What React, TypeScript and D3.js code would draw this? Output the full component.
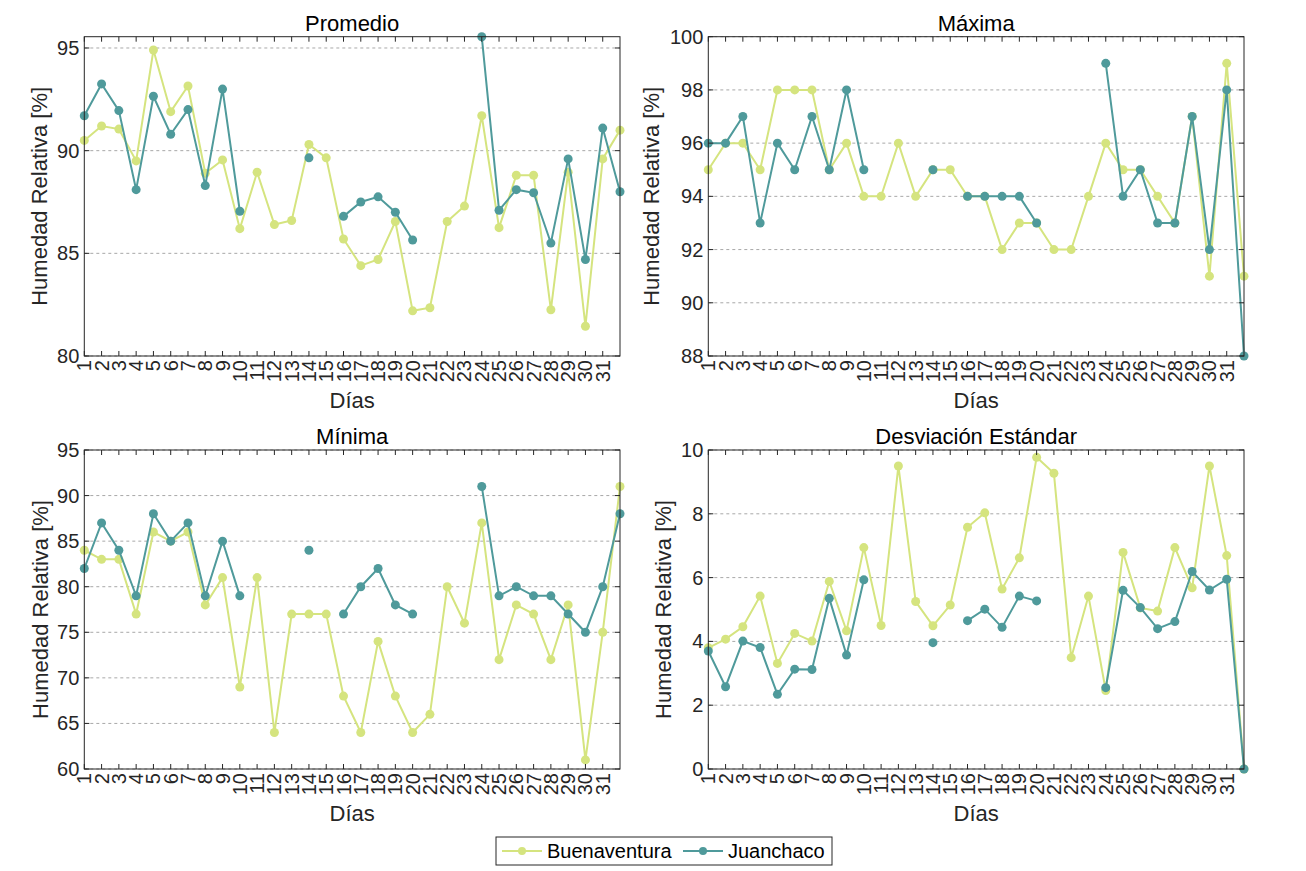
import React from "react";
import * as d3 from "d3";

const WIDTH = 1306;
const HEIGHT = 871;
const FONT = "'Liberation Sans', Arial, Helvetica, sans-serif";
const COLOR_BUENA = "#d5e47f";
const COLOR_JUAN = "#4f9a9b";
const AXIS_COLOR = "#262626";

// dias del mes (el 32 queda sin etiqueta)
const DAYS = d3.range(1, 33);
const DAY_LABELS = [
  "1", "2", "3", "4", "5", "6", "7", "8", "9", "10", "11", "12", "13", "14", "15", "16",
  "17", "18", "19", "20", "21", "22", "23", "24", "25", "26", "27", "28", "29", "30", "31",
];

const SERIES_NAMES = ["Buenaventura", "Juanchaco"];

const PROM_BUENA = [
  90.5, 91.2, 91.05, 89.5, 94.9, 91.9, 93.15, 88.9, 89.55, 86.2, 88.95, 86.4, 86.6, 90.3, 89.65, 85.7,
  84.4, 84.7, 86.55, 82.2, 82.35, 86.55, 87.3, 91.7, 86.25, 88.8, 88.8, 82.25, 88.95, 81.45, 89.6, 91.0,
];
const PROM_JUAN = [
  91.7, 93.25, 91.95, 88.1, 92.65, 90.8, 92.0, 88.3, 93.0, 87.05, null, null, null, 89.65, null, 86.8,
  87.5, 87.75, 87.0, 85.65, null, null, null, 95.55, 87.1, 88.1, 87.95, 85.5, 89.6, 84.7, 91.1, 88.0,
];

const MAX_BUENA = [
  95, 96, 96, 95, 98, 98, 98, 95, 96, 94, 94, 96, 94, 95, 95, 94,
  94, 92, 93, 93, 92, 92, 94, 96, 95, 95, 94, 93, 97, 91, 99, 91,
];
const MAX_JUAN = [
  96, 96, 97, 93, 96, 95, 97, 95, 98, 95, null, null, null, 95, null, 94,
  94, 94, 94, 93, null, null, null, 99, 94, 95, 93, 93, 97, 92, 98, 88,
];

const MIN_BUENA = [
  84, 83, 83, 77, 86, 85, 86, 78, 81, 69, 81, 64, 77, 77, 77, 68,
  64, 74, 68, 64, 66, 80, 76, 87, 72, 78, 77, 72, 78, 61, 75, 91,
];
const MIN_JUAN = [
  82, 87, 84, 79, 88, 85, 87, 79, 85, 79, null, null, null, 84, null, 77,
  80, 82, 78, 77, null, null, null, 91, 79, 80, 79, 79, 77, 75, 80, 88,
];

const STD_BUENA = [
  3.8, 4.07, 4.46, 5.42, 3.31, 4.25, 4.01, 5.88, 4.33, 6.94, 4.5, 9.5, 5.25, 4.49, 5.14, 7.58,
  8.03, 5.64, 6.62, 9.77, 9.27, 3.49, 5.42, 2.46, 6.79, 5.05, 4.95, 6.94, 5.68, 9.5, 6.69, 0,
];
const STD_JUAN = [
  3.7, 2.58, 4.01, 3.81, 2.34, 3.13, 3.12, 5.35, 3.57, 5.93, null, null, null, 3.96, null, 4.65,
  5.01, 4.44, 5.42, 5.27, null, null, null, 2.55, 5.6, 5.06, 4.4, 4.62, 6.19, 5.61, 5.95, 0,
];

const PROM_TICKS = [80, 85, 90, 95];
const MAX_TICKS = [88, 90, 92, 94, 96, 98, 100];
const MIN_TICKS = [60, 65, 70, 75, 80, 85, 90, 95];
const STD_TICKS = [0, 2, 4, 6, 8, 10];

type PanelProps = {
  title: string;
  left: number;
  top: number;
  width: number;
  height: number;
  yDomain: [number, number];
  yTicks: number[];
  buena: (number | null)[];
  juan: (number | null)[];
  yLabelOffset: number;
};

const Panel = ({ title, left, top, width, height, yDomain, yTicks, buena, juan, yLabelOffset }: PanelProps) => {
  const x = d3.scaleLinear().domain([1, 32]).range([0, width]);
  const y = d3.scaleLinear().domain(yDomain).range([height, 0]);

  const line = d3
    .line<number | null>()
    .defined((d) => d !== null)
    .x((_, i) => x(DAYS[i]))
    .y((d) => y(d as number));

  const drawSeries = (data: (number | null)[], color: string) => (
    <g>
      <path d={line(data) || ""} fill="none" stroke={color} strokeWidth={2} />
      {data.map((d, i) =>
        d === null ? null : <circle key={i} cx={x(DAYS[i])} cy={y(d)} r={4.5} fill={color} />
      )}
    </g>
  );

  const tickLen = 5;

  return (
    <g transform={`translate(${left},${top})`} fontFamily={FONT}>
      <rect x={0} y={0} width={width} height={height} fill="white" />
      {yTicks.map((t) => (
        <line key={t} x1={0} x2={width} y1={y(t)} y2={y(t)} stroke="#a8a8a8" strokeWidth={1} strokeDasharray="3,3" />
      ))}
      {drawSeries(buena, COLOR_BUENA)}
      {drawSeries(juan, COLOR_JUAN)}
      {/* ticks interiores */}
      {DAY_LABELS.map((_, i) => (
        <g key={i}>
          <line x1={x(DAYS[i])} x2={x(DAYS[i])} y1={height} y2={height - tickLen} stroke={AXIS_COLOR} />
          <line x1={x(DAYS[i])} x2={x(DAYS[i])} y1={0} y2={tickLen} stroke={AXIS_COLOR} />
        </g>
      ))}
      {yTicks.map((t) => (
        <g key={t}>
          <line x1={0} x2={tickLen} y1={y(t)} y2={y(t)} stroke={AXIS_COLOR} />
          <line x1={width} x2={width - tickLen} y1={y(t)} y2={y(t)} stroke={AXIS_COLOR} />
        </g>
      ))}
      <rect x={0} y={0} width={width} height={height} fill="none" stroke={AXIS_COLOR} strokeWidth={1} />
      {yTicks.map((t) => (
        <text key={t} x={-5} y={y(t)} dy="0.35em" textAnchor="end" fontSize={20} fill={AXIS_COLOR}>
          {t}
        </text>
      ))}
      {DAY_LABELS.map((lab, i) => (
        <text
          key={lab}
          transform={`translate(${x(DAYS[i])},${height + 4}) rotate(-90)`}
          dy="0.35em"
          textAnchor="end"
          fontSize={20}
          fill={AXIS_COLOR}
        >
          {lab}
        </text>
      ))}
      <text x={width / 2} y={-6} textAnchor="middle" fontSize={22} fill="black">
        {title}
      </text>
      <text x={width / 2} y={height + 52} textAnchor="middle" fontSize={22} fill={AXIS_COLOR}>
        Días
      </text>
      <text
        transform={`translate(${yLabelOffset},${height / 2}) rotate(-90)`}
        textAnchor="middle"
        fontSize={22}
        fill={AXIS_COLOR}
      >
        Humedad Relativa [%]
      </text>
    </g>
  );
};

const Legend = () => {
  const items = [
    { name: SERIES_NAMES[0], color: COLOR_BUENA, x0: 502 },
    { name: SERIES_NAMES[1], color: COLOR_JUAN, x0: 683 },
  ];
  return (
    <g fontFamily={FONT}>
      <rect x={496} y={837} width={336} height={28} fill="white" stroke={AXIS_COLOR} strokeWidth={1} />
      {items.map((it) => (
        <g key={it.name}>
          <line x1={it.x0} x2={it.x0 + 40} y1={851} y2={851} stroke={it.color} strokeWidth={2} />
          <circle cx={it.x0 + 20} cy={851} r={4} fill={it.color} />
          <text x={it.x0 + 45} y={851} dy="0.35em" fontSize={20} fill="black">
            {it.name}
          </text>
        </g>
      ))}
    </g>
  );
};

export default function App() {
  const leftA = 84.3;
  const leftB = 708.3;
  const w = 535.7;
  const topA = 36.7;
  const topB = 450;
  const hA = 319.3;
  const hB = 319;
  return (
    <svg
      width={WIDTH}
      height={HEIGHT}
      style={{ position: "absolute", left: 0, top: 0, background: "white" }}
    >
      <rect width={WIDTH} height={HEIGHT} fill="white" />
      <Panel title="Promedio" left={leftA} top={topA} width={w} height={hA} yDomain={[80, 95.55]}
        yTicks={PROM_TICKS} buena={PROM_BUENA} juan={PROM_JUAN} yLabelOffset={-37} />
      <Panel title="Máxima" left={leftB} top={topA} width={w} height={hA} yDomain={[88, 100]}
        yTicks={MAX_TICKS} buena={MAX_BUENA} juan={MAX_JUAN} yLabelOffset={-49} />
      <Panel title="Mínima" left={leftA} top={topB} width={w} height={hB} yDomain={[60, 95]}
        yTicks={MIN_TICKS} buena={MIN_BUENA} juan={MIN_JUAN} yLabelOffset={-36} />
      <Panel title="Desviación Estándar" left={leftB} top={topB} width={w} height={hB} yDomain={[0, 10]}
        yTicks={STD_TICKS} buena={STD_BUENA} juan={STD_JUAN} yLabelOffset={-37} />
      <Legend />
    </svg>
  );
}
